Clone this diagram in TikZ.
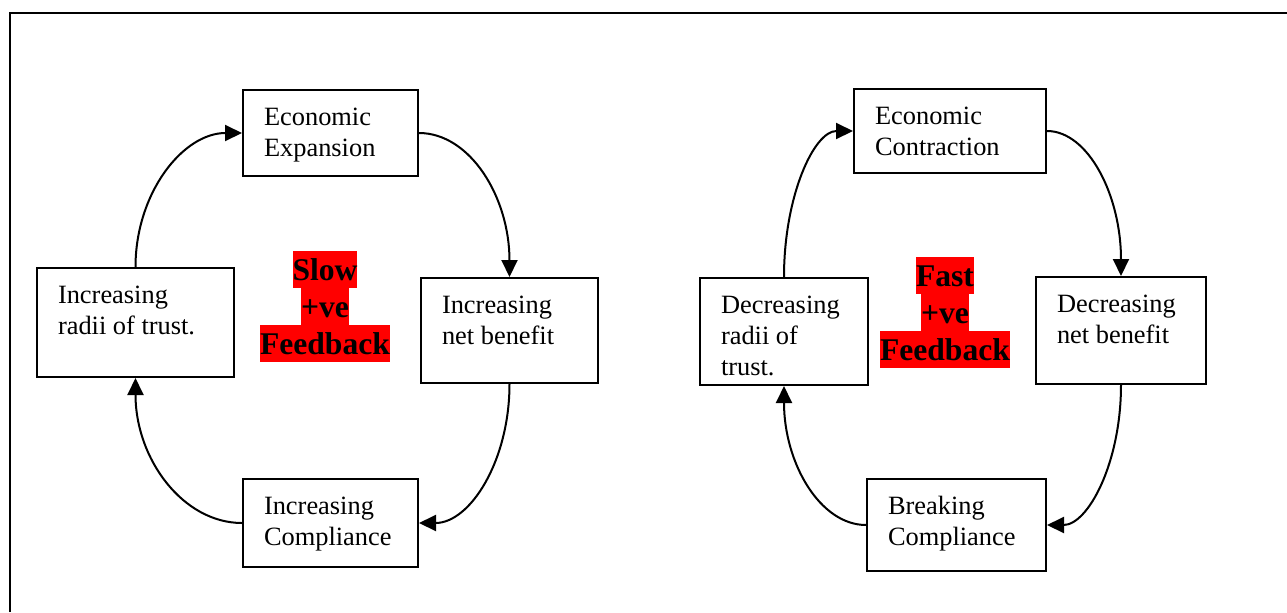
\documentclass[tikz,border=0pt]{standalone}
\usepackage{fontspec}
\setmainfont{Liberation Serif}
\usetikzlibrary{arrows.meta}
\newlength\pxu
\setlength\pxu{0.5pt}
\newcommand\bxt[3]{\parbox[c][#2\pxu][t]{#1\pxu}{\raggedright\leftskip=10.5pt\rule{0pt}{17.5pt}#3}}
\begin{document}
\begin{tikzpicture}[x=0.5pt,y=-0.5pt,
  box/.style={draw,line width=1pt,inner sep=0pt,anchor=north west,font=\fontsize{13.2pt}{15.5pt}\selectfont},
  fb/.style={fill=red,inner sep=0pt,text height=14.5pt,text depth=4pt,font=\fontsize{15.8pt}{18.5pt}\selectfont\bfseries},
  arr/.style={line width=1pt,-{Triangle[length=8.5pt,width=8pt]}}]
\useasboundingbox (0,0) rectangle (1287,612);
\draw[line width=1.4pt] (10,612) -- (10,13) -- (1287,13);
% left cycle
\node[box] (EE) at (242,89) {\bxt{175}{86}{Economic\\Expansion}};
\node[box] (IR) at (36,267) {\bxt{197}{109}{Increasing\\radii of trust.}};
\node[box] (IN) at (420,277) {\bxt{177}{105}{Increasing\\net benefit}};
\node[box] (IC) at (242,478) {\bxt{175}{88}{Increasing\\Compliance}};
% right cycle
\node[box] (EC) at (853,88) {\bxt{192}{84}{Economic\\Contraction}};
\node[box] (DN) at (1035,276) {\bxt{170}{107}{Decreasing\\net benefit}};
\node[box] (DR) at (699,277) {\bxt{168}{107}{Decreasing\\radii of\\trust.}};
\node[box] (BC) at (866,478) {\bxt{179}{92}{Breaking\\Compliance}};
% feedback labels
\node[fb] (s1) at (325,269.5) {Slow};
\node[fb] (s2) at (325,306.5) {+ve};
\node[fb] (s3) at (325,343.5) {Feedback};
\node[fb] (f1) at (945,275.5) {Fast};
\node[fb] (f2) at (945,312.5) {+ve};
\node[fb] (f3) at (945,349.5) {Feedback};
% arrows left
\draw[arr] (IR.north) .. controls +(0,-74) and +(-59,0) .. (EE.west);
\draw[arr] (EE.east) .. controls +(51,0) and +(0,-80) .. (IN.north);
\draw[arr] (IN.south) .. controls +(0,77) and +(51,0) .. (IC.east);
\draw[arr] (IC.west) .. controls +(-59,0) and +(0,81) .. (IR.south);
% arrows right
\draw[arr] (DR.north) .. controls +(0,-81) and +(-39,0) .. (EC.west);
\draw[arr] (EC.east) .. controls +(41,0) and +(0,-81) .. (DN.north);
\draw[arr] (DN.south) .. controls +(0,78) and +(41,0) .. (BC.east);
\draw[arr] (BC.west) .. controls +(-46,0) and +(0,77) .. (DR.south);
\end{tikzpicture}
\end{document}
